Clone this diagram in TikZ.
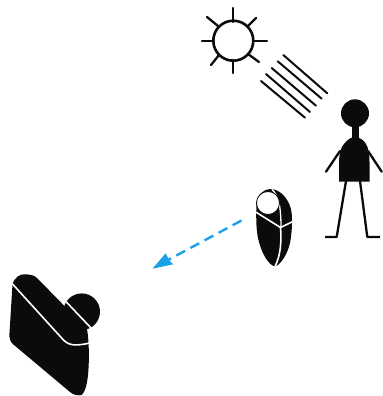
\documentclass[tikz,border=0pt]{standalone}
\definecolor{arrowblue}{RGB}{30,160,232}
\definecolor{ink}{RGB}{12,10,12}
\tikzset{
  ink line/.style={draw=ink,line width=2.3bp,line cap=round},
  thin ray/.style={draw=ink,line width=2bp,line cap=round},
  white cut/.style={draw=white,line width=1.6bp,line cap=round},
  solid ink/.style={fill=ink,draw=none}
}
\begin{document}
\begin{tikzpicture}[x=1bp,y=-1bp]
\useasboundingbox (0,0) rectangle (383,396);
% sun
\draw[ink line,line width=2.6bp] (233.3,40.7) circle (20);
\foreach \a/\b/\c/\d in {233/22/233/8, 214/41/202/41, 253/41/267/41, 233/60/233/73, 218/26/207/17, 248/26/256/18, 219/55/211/65, 248/54/259/62}
  \draw[ink line] (\a,\b) -- (\c,\d);
% rays
\foreach \a/\b/\c/\d in {283.3/55/327.3/93.3, 277.7/61.3/321.7/98.7, 271.7/68/316/105.7, 266/74/310/112, 261/81/305/117.7}
  \draw[thin ray] (\a,\b) -- (\c,\d);
% person
\fill[solid ink] (355,113.3) circle (14);
\fill[solid ink] (351.5,120) rectangle (358.5,145);
\fill[solid ink] (339,181.7) -- (339,162) .. controls (339.3,153) and (341,147) .. (344,144) .. controls (347,140) and (351,137) .. (355,137) .. controls (359,137) and (364,140) .. (366,144) .. controls (368,147) and (369.5,153) .. (369.5,162) -- (369.5,181.7) -- cycle;
\draw[ink line] (340,151) -- (326,171.7);
\draw[ink line] (368,151) -- (381.7,171.7);
\draw[ink line,line cap=butt,line join=round] (346,181) -- (336.7,237) -- (325,237);
\draw[ink line,line cap=butt,line join=round] (360,181) -- (367.3,237) -- (380,237);
% baby
\fill[solid ink] (270,189) .. controls (280,189) and (288,198) .. (291,209) .. controls (292.5,216) and (292.5,230) .. (290,243) .. controls (288,252) and (282,264) .. (275,266.5) .. controls (268,265) and (261,252) .. (258,238) .. controls (256,228) and (256,215) .. (256.5,203) .. controls (257,195) and (264,189) .. (270,189) -- cycle;
\draw[white cut,line width=1.3bp] (272,189.5) .. controls (278,195) and (281,205) .. (281,227);
\draw[white cut] (256.5,212.5) -- (280.5,227.5) -- (293,221.5);
\draw[white cut] (280.5,227.5) .. controls (281.5,240) and (281,255) .. (275,266.5);
\fill[white,draw=ink,line width=.8bp] (268,203) circle (11.5);
% arrow
\coordinate (arrowstart) at (241.5,220.5);
\coordinate (arrowend) at (168,260);
\draw[draw=arrowblue,line width=2.4bp,dash pattern=on 10bp off 6bp] (arrowstart) -- (arrowend);
\fill[arrowblue] (152.5,268.7) -- (165.7,253.3) -- (169,260) -- (173.3,264.3) -- cycle;
% camera
\fill[solid ink] (81.7,311.7) circle (18.3);
\fill[solid ink] (12.5,284) .. controls (15,277) and (20,274) .. (25,274.3) .. controls (30,274.5) and (34,275) .. (37,278) -- (87,329) .. controls (89,340) and (89.5,360) .. (88,375) .. controls (87,385) and (85,392) .. (81.7,395) .. controls (77,396) and (73,394.5) .. (70,392) -- (14,345) .. controls (10,342) and (9,338) .. (9.5,333) -- cycle;
\draw[white cut] (12.5,284) -- (63,339.5) .. controls (69,346) and (76,346) .. (90,343);
\draw[white cut] (63.5,299) -- (92,329);
\end{tikzpicture}
\end{document}
